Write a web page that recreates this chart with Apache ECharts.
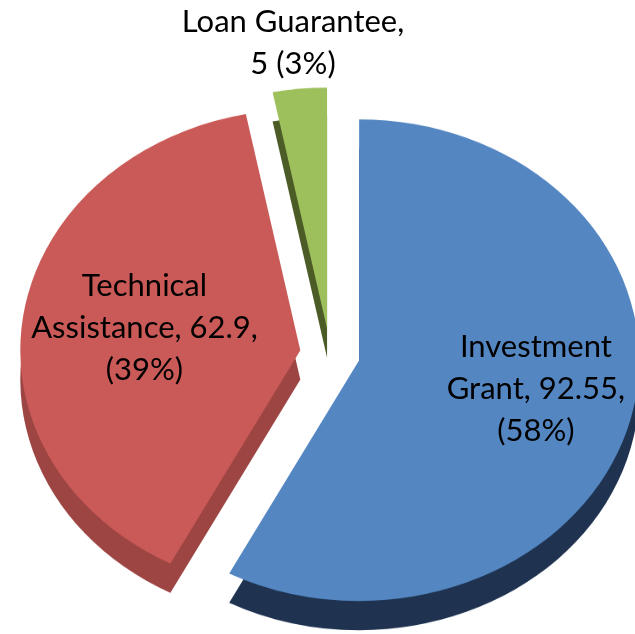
<!DOCTYPE html>
<html>
<head>
<meta charset="utf-8">
<script src="https://cdn.jsdelivr.net/npm/echarts@6/dist/echarts.min.js"></script>
<style>
    html, body { margin: 0; padding: 0; background: #fff; }
    #wrap { position: relative; width: 635px; height: 634px; overflow: hidden; }
    #labels { position: absolute; left: 0; top: 0; width: 635px; height: 634px; }
    /* tilt the pie so it reads like the old 3D excel pie */
    #slices { position: absolute; left: 0; top: 0; width: 635px; height: 760px;
              transform-origin: 0 354px; transform: scaleY(0.86); }
</style>
</head>
<body>
<div id="wrap">
    <div id="slices"></div>
    <div id="labels"></div>
</div>
<script>
var categories = ['Investment Grant', 'Technical Assistance', 'Loan Guarantee'];
var values = [92.55, 62.9, 5];

var topColors = ['#5486c2', '#ca5a57', '#9dc05d'];
var sideColors = ['#1f3350', '#9d4542', '#4b5c27'];
// label nudges (dx, dy) from the inside anchor
var labelShift = [[67, 1], [-44, -6], [-23, -169]];

var cx = 330, cy = 354, r = 280, depth = 34, explode = 30;

var total = values.reduce(function (a, b) { return a + b; }, 0);

// middle angle of each slice, clockwise from 12 o'clock
var mids = [];
var acc = 0;
values.forEach(function (v) {
    mids.push((acc + v / 2) / total * Math.PI * 2);
    acc += v;
});

// one pie per slice: only that slice painted, centre pushed out along its middle angle
function sliceSeries(i, colors, dy, z) {
    return {
        type: 'pie',
        silent: true,
        z: z,
        center: [cx + explode * Math.sin(mids[i]), cy + dy - explode * Math.cos(mids[i])],
        radius: [0, r],
        startAngle: 90,
        label: { show: false },
        labelLine: { show: false },
        emphasis: { disabled: true },
        data: categories.map(function (name, j) {
            return {
                name: name,
                value: values[j],
                itemStyle: { color: j === i ? colors[j] : 'rgba(0,0,0,0)' }
            };
        })
    };
}

var series = [];
categories.forEach(function (c, i) { series.push(sliceSeries(i, sideColors, depth, 1)); });
categories.forEach(function (c, i) { series.push(sliceSeries(i, topColors, 0, 2)); });

var slices = echarts.init(document.getElementById('slices'));
slices.setOption({
    animation: false,
    series: series
});

var labels = echarts.init(document.getElementById('labels'));
labels.setOption({
    animation: false,
    series: [{
        type: 'pie',
        silent: true,
        center: [cx, cy],
        radius: [0, r],
        startAngle: 90,
        itemStyle: { color: 'rgba(0,0,0,0)' },
        emphasis: { disabled: true },
        labelLine: { show: false },
        label: {
            show: true,
            position: 'inside',
            color: '#000',
            fontFamily: 'Lato',
            fontSize: 31,
            lineHeight: 42,
            align: 'center',
            formatter: function (p) {
                if (p.percent < 5) {
                    return p.name + ',\n' + p.value + ' (' + Math.round(p.percent) + '%)';
                }
                var words = p.name.split(' ');
                return words[0] + '\n' + words.slice(1).join(' ') + ', ' + p.value + ',\n(' + Math.round(p.percent) + '%)';
            }
        },
        labelLayout: function (params) {
            var s = labelShift[params.dataIndex];
            return { dx: s[0], dy: s[1] };
        },
        data: categories.map(function (name, i) {
            return { name: name, value: values[i] };
        })
    }]
});
</script>
</body>
</html>
